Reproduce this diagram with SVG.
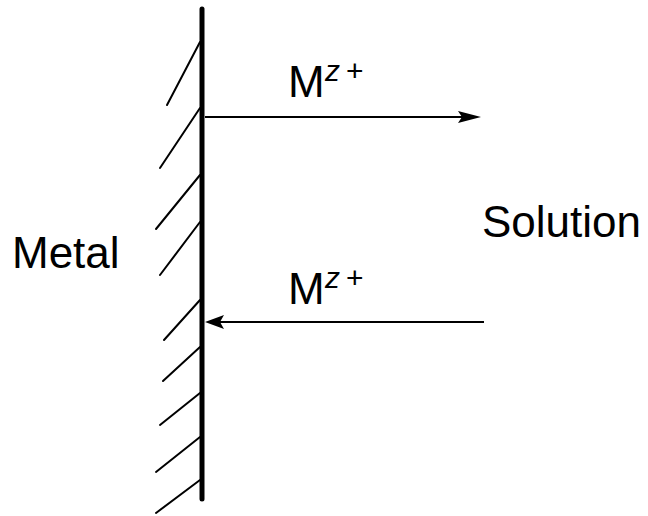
<svg xmlns="http://www.w3.org/2000/svg" width="648" height="516" viewBox="0 0 648 516">
<style>
.lbl{font-family:"Liberation Sans",Arial,sans-serif;font-size:44px;fill:#000}
.sup{font-family:"Liberation Sans",Arial,sans-serif;font-size:30px;fill:#000}
.hatch{stroke:#000;stroke-width:2;stroke-linecap:round;fill:none}
.conn{stroke:#000;stroke-width:2;fill:none}
</style>
<rect width="648" height="516" fill="#fff"/>
<g id="metal">
<line x1="202" y1="9" x2="202" y2="499" stroke="#000" stroke-width="5" stroke-linecap="round"/>
<g class="hatch">
<line x1="200" y1="42" x2="167" y2="105"/>
<line x1="200" y1="108" x2="160" y2="168"/>
<line x1="200" y1="175" x2="156" y2="229"/>
<line x1="200" y1="222" x2="160" y2="275"/>
<line x1="200" y1="300" x2="164" y2="340"/>
<line x1="200" y1="347" x2="163" y2="381"/>
<line x1="200" y1="393" x2="160" y2="425"/>
<line x1="200" y1="437" x2="156" y2="472"/>
<line x1="200" y1="480" x2="156" y2="513"/>
</g>
<text class="lbl" x="12" y="268">Metal</text>
</g>
<g id="solution">
<text class="lbl" x="482" y="237">Solution</text>
</g>
<g id="connectors">
<line class="conn" x1="205" y1="117" x2="462" y2="117"/>
<polygon points="481,117 458,111 462,117 458,123" fill="#000"/>
<line class="conn" x1="220" y1="322" x2="484" y2="322"/>
<polygon points="205,322 224,315 220,322 224,329" fill="#000"/>
</g>
<g id="label-top">
<text class="lbl" x="288" y="97">M</text>
<text class="sup" x="325" y="81" font-style="italic">z</text>
<text class="sup" x="346" y="81">+</text>
</g>
<g id="label-bottom">
<text class="lbl" x="288" y="304">M</text>
<text class="sup" x="325" y="288" font-style="italic">z</text>
<text class="sup" x="346" y="288">+</text>
</g>
</svg>
